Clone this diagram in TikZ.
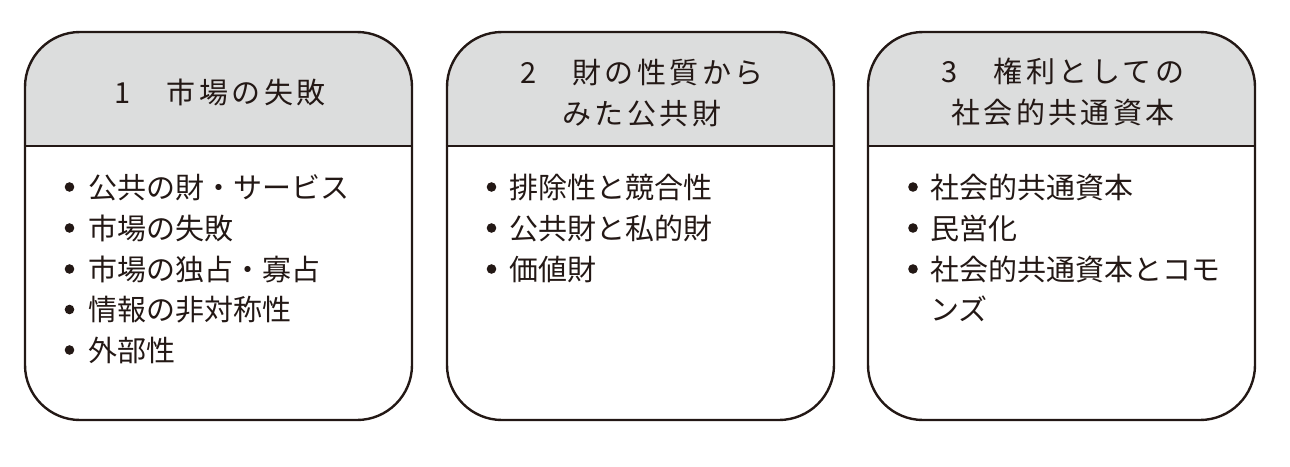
\documentclass[tikz,border=0pt]{standalone}
\usepackage{fontspec}
\setmainfont{Noto Sans CJK JP}
\newfontfamily\ttlfont[LetterSpace=12]{Noto Sans CJK JP}
\definecolor{ink}{HTML}{231815}
\definecolor{hdr}{HTML}{DCDDDD}
\tikzset{
  panel/.style={draw=ink, line width=2.4pt, rounded corners=55pt, minimum width=387pt, minimum height=388pt, inner sep=0pt,
    path picture={\fill[hdr, sharp corners] (path picture bounding box.north west) rectangle ([yshift=-115pt]path picture bounding box.north east);}},
  divider/.style={draw=ink, line width=2.4pt},
  ttl/.style={text=ink, font={\ttlfont\fontsize{29pt}{41pt}\selectfont}, align=center, inner sep=0pt},
  itm/.style={text=ink, font={\fontsize{29pt}{35pt}\selectfont}, inner sep=0pt, anchor=base west},
  dot/.style={fill=ink}
}
\begin{document}
\begin{tikzpicture}[x=1pt,y=-1pt]
\useasboundingbox (0,0) rectangle (1290,466);
% panels
\node[panel] (p1) at (218.5,226) {};
\node[panel] (p2) at (640.5,226) {};
\node[panel] (p3) at (1061.5,226) {};
\draw[divider] ([yshift=-115pt]p1.north west) -- ([yshift=-115pt]p1.north east);
\draw[divider] ([yshift=-115pt]p2.north west) -- ([yshift=-115pt]p2.north east);
\draw[divider] ([yshift=-115pt]p3.north west) -- ([yshift=-115pt]p3.north east);
% titles
\node[ttl] (t1) at (220,92) {1　市場の失敗};
\node[ttl] (t2) at (642,93) {2　財の性質から\\みた公共財};
\node[ttl] (t3) at (1063,91.5) {3　権利としての\\社会的共通資本};
% items, panel 1
\foreach \y in {187,228,269,309.5,350} \fill[dot] (69.5,\y) circle (4.8pt);
\node[itm] (a1) at (88,198) {公共の財・サービス};
\node[itm] (a2) at (88,239) {市場の失敗};
\node[itm] (a3) at (88,280) {市場の独占・寡占};
\node[itm] (a4) at (88,320.5) {情報の非対称性};
\node[itm] (a5) at (88,361) {外部性};
% items, panel 2
\foreach \y in {187,228,269} \fill[dot] (491.5,\y) circle (4.8pt);
\node[itm] (b1) at (509,198) {排除性と競合性};
\node[itm] (b2) at (509,239) {公共財と私的財};
\node[itm] (b3) at (509,280) {価値財};
% items, panel 3
\foreach \y in {187,228,269} \fill[dot] (913,\y) circle (4.8pt);
\node[itm] (c1) at (930,198) {社会的共通資本};
\node[itm] (c2) at (930,239) {民営化};
\node[itm] (c3) at (930,280) {社会的共通資本とコモ};
\node[itm] (c4) at (930,320.5) {ンズ};
\end{tikzpicture}
\end{document}
